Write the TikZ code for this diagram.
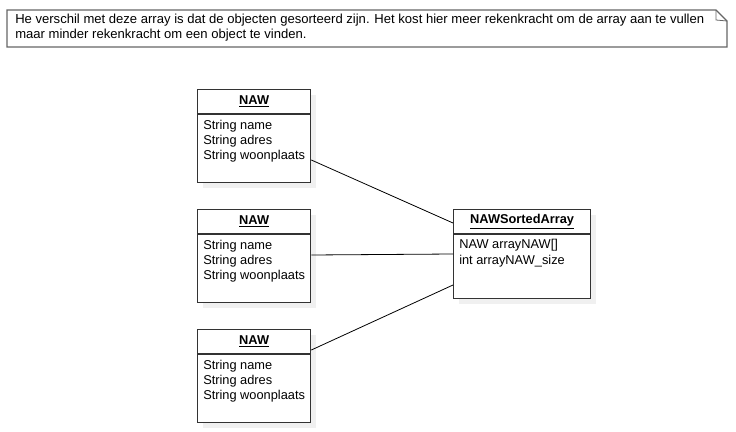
\documentclass[tikz,border=0pt]{standalone}
\usepackage{fontspec}
\setmainfont{Liberation Sans}
\usetikzlibrary{calc,shadows}
\begin{document}
\begin{tikzpicture}[x=0.75pt,y=-0.75pt,
  every node/.style={font=\fontsize{9.6}{11.25}\selectfont},
  shd/.style={general shadow={fill=black!6,shadow xshift=3.75pt,shadow yshift=-3.75pt}},
  classbox/.style={draw=black!80,line width=1pt,fill=white,shd,inner sep=0pt,anchor=north west,
    minimum width=113*0.75pt,minimum height=93*0.75pt},
  sortbox/.style={classbox,minimum width=137*0.75pt,minimum height=89*0.75pt},
  hdr/.style={font=\fontsize{9.6}{11.25}\selectfont\bfseries,inner sep=0pt},
  attr/.style={anchor=west,inner sep=0pt},
  conn/.style={draw=black,line width=0.6pt}]
\useasboundingbox (0,0) rectangle (736,432);
% note
\draw[black!60,line width=0.9pt,fill=white] (7,10) -- (716,10) -- (727,21) -- (727,47) -- (7,47) -- cycle;
\draw[black!60,line width=0.6pt] (716,10) -- (716,20) -- (727,21);
\node[attr,align=left,anchor=north west,font=\fontsize{9.8}{11.25}\selectfont] (note) at (15,14) {He verschil met deze array is dat de objecten gesorteerd zijn. Het kost hier meer rekenkracht om de array aan te vullen\\maar minder rekenkracht om een object te vinden.};
% NAW boxes
\foreach \n/\y in {b1/89,b2/209,b3/329}{
  \node[classbox] (\n) at (197,\y) {};
  \draw[black!80,line width=1pt] ($(\n.north west)+(0,25)$) -- ($(\n.north east)+(0,25)$);
  \node[hdr] (\n h) at ($(\n.north)+(0,12.5)$) {\underline{NAW}};
  \node[attr] (\n a1) at ($(\n.north west)+(6,37)$) {String name};
  \node[attr] (\n a2) at ($(\n.north west)+(6,52)$) {String adres};
  \node[attr] (\n a3) at ($(\n.north west)+(6,67)$) {String woonplaats};
}
% sorted array
\node[sortbox] (s) at (453,209) {};
\draw[black!80,line width=1pt] ($(s.north west)+(0,25)$) -- ($(s.north east)+(0,25)$);
\node[hdr] (sh) at ($(s.north)+(0,13)$) {\underline{NAWSortedArray}};
\node[attr] (sa1) at ($(s.north west)+(6,36)$) {NAW arrayNAW[]};
\node[attr] (sa2) at ($(s.north west)+(6,52)$) {int arrayNAW\_size};
% connectors
\draw[conn] ($(b1.north east)+(0,71)$) -- ($(s.north west)+(0,14)$);
\draw[conn] ($(b2.north east)+(0,46)$) -- ($(s.north west)+(0,45)$);
\draw[conn] ($(b3.north east)+(0,21)$) -- ($(s.north west)+(0,76)$);
\end{tikzpicture}
\end{document}
